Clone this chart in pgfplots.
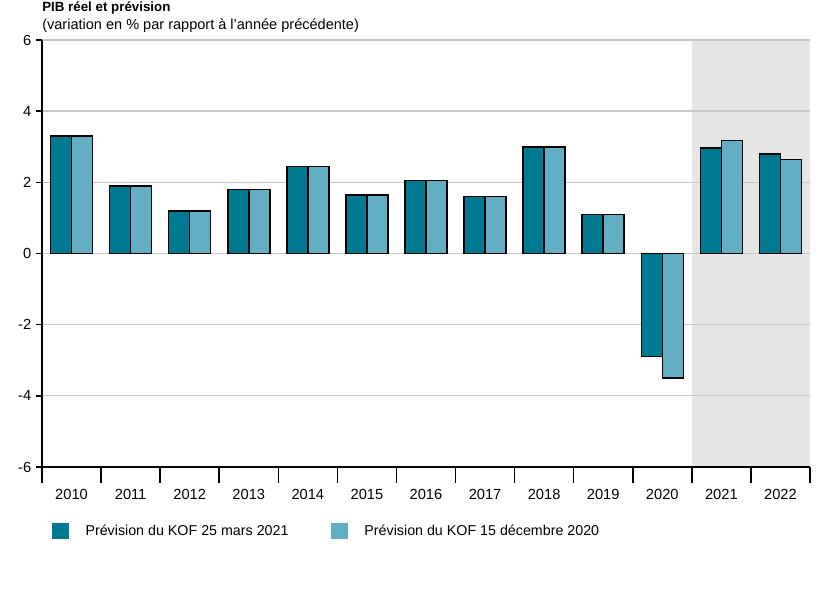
\documentclass[border=0pt]{standalone}
\usepackage{pgfplots}
\pgfplotsset{compat=1.18}
\usepackage{fontspec}
\setmainfont{Liberation Sans}
\definecolor{darkteal}{RGB}{0,121,146}
\definecolor{lightteal}{RGB}{98,174,196}
\definecolor{shade}{RGB}{230,230,230}
\definecolor{gridgray}{RGB}{200,200,200}
\begin{document}
\begin{tikzpicture}
\path (0pt,0pt) rectangle (627pt,450pt);
\node[anchor=west,inner sep=0pt,font=\fontsize{10}{12}\selectfont\bfseries] at (31.5pt,444pt) {PIB réel et prévision};
\node[anchor=west,inner sep=0pt,font=\fontsize{10.9}{12}\selectfont] at (31.5pt,431pt) {(variation en \% par rapport à l'année précédente)};
\begin{axis}[
  set layers,
  at={(31.5pt,99.75pt)}, anchor=south west,
  scale only axis, width=576pt, height=320.25pt,
  xmin=-0.5, xmax=12.5, ymin=-6, ymax=6,
  ytick={-6,-4,...,6},
  xtick={0,...,12},
  xticklabels={2010,2011,2012,2013,2014,2015,2016,2017,2018,2019,2020,2021,2022},
  minor xtick={-0.5,0.5,...,12.5},
  major x tick style={draw=none},
  tick align=outside,
  major tick length=4.5pt,
  minor tick length=12pt,
  axis x line*=bottom, axis y line*=left,
  axis line style={black, line width=1.1pt, -},
  every tick/.style={black, line width=1.1pt},
  ymajorgrids,
  grid style={gridgray, line width=1pt},
  ticklabel style={font=\fontsize{11}{12}\selectfont},
  /pgf/number format/assume math mode=true,
  xticklabel style={yshift=-9pt},
  legend style={at={(rel axis cs:0.013,-0.15)}, anchor=west, draw=none, fill=none, inner sep=0pt,
    font=\fontsize{10.7}{12}\selectfont,
    /tikz/every odd column/.append style={column sep=10.5pt},
    /tikz/every even column/.append style={column sep=30pt}},
  legend columns=2,
  legend cell align=left,
]
\addplot[fill=shade, draw=none, on layer=axis background, forget plot] coordinates {(10.5,-6) (12.5,-6) (12.5,6) (10.5,6)} -- cycle;
\addplot[ybar, bar width=15.75pt, bar shift=-7.875pt, fill=darkteal, draw=black, line width=1.2pt,
  legend image code/.code={\fill[darkteal] (0pt,-5.6pt) rectangle (11.25pt,5.6pt);}] coordinates {
(0,3.3) (1,1.9) (2,1.2) (3,1.8) (4,2.45) (5,1.65) (6,2.05) (7,1.6) (8,3.0) (9,1.1) (10,-2.9) (11,2.97) (12,2.8)};
\addplot[ybar, bar width=15.75pt, bar shift=7.875pt, fill=lightteal, draw=black, line width=1.2pt,
  legend image code/.code={\fill[lightteal] (0pt,-5.6pt) rectangle (11.25pt,5.6pt);}] coordinates {
(0,3.3) (1,1.9) (2,1.2) (3,1.8) (4,2.45) (5,1.65) (6,2.05) (7,1.6) (8,3.0) (9,1.1) (10,-3.5) (11,3.18) (12,2.64)};
\legend{Prévision du KOF 25 mars 2021, Prévision du KOF 15 décembre 2020}
\end{axis}
\end{tikzpicture}
\end{document}
